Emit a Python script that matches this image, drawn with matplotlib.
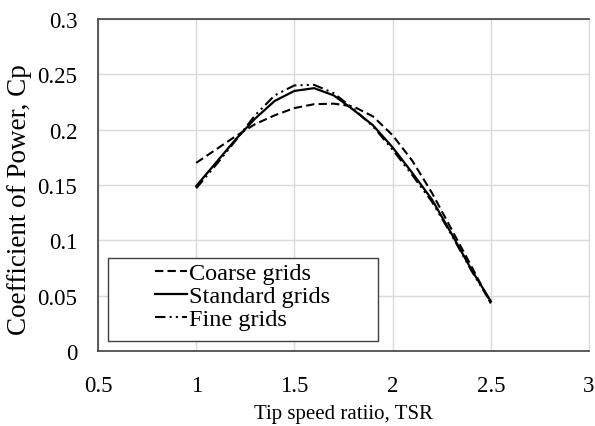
import matplotlib
matplotlib.use("Agg")
import matplotlib.pyplot as plt
from matplotlib.patches import Rectangle

plt.rcParams['font.family'] = ['Liberation Serif', 'DejaVu Serif']

# TSR values
tsr = [1.0, 1.1, 1.2, 1.3, 1.4, 1.5, 1.6, 1.7, 1.8, 1.9, 2.0, 2.1, 2.2, 2.3, 2.4, 2.5]

cp_coarse = [0.170, 0.182, 0.194, 0.205, 0.213, 0.2195, 0.223, 0.2235, 0.221, 0.212,
             0.195, 0.172, 0.143, 0.110, 0.077, 0.043]
cp_standard = [0.149, 0.170, 0.191, 0.210, 0.226, 0.235, 0.2375, 0.231, 0.218, 0.204,
               0.184, 0.161, 0.137, 0.106, 0.074, 0.045]
cp_fine = [0.147, 0.168, 0.190, 0.213, 0.231, 0.240, 0.2405, 0.233, 0.219, 0.203,
           0.182, 0.159, 0.135, 0.105, 0.073, 0.044]

labels = ['Coarse grids', 'Standard grids', 'Fine grids']

fig = plt.figure(figsize=(5.95, 4.27), dpi=100)
ax = fig.add_axes([0.1647, 0.1756, 0.8252, 0.7776])

ax.plot(tsr, cp_coarse, color='black', lw=1.5, linestyle=(0, (4, 2)), label=labels[0])
ax.plot(tsr, cp_standard, color='black', lw=1.6, linestyle='-', label=labels[1])
ax.plot(tsr, cp_fine, color='black', lw=1.5, linestyle=(0, (5, 2, 1, 2, 1, 2)), label=labels[2])

ax.set_xlim(0.5, 3)
ax.set_ylim(0, 0.3)
ax.set_xticks([0.5, 1, 1.5, 2, 2.5, 3])
ax.set_xticklabels(['0.5', '1', '1.5', '2', '2.5', '3'])
ax.set_yticks([0, 0.05, 0.1, 0.15, 0.2, 0.25, 0.3])
ax.set_yticklabels(['0', '0.05', '0.1', '0.15', '0.2', '0.25', '0.3'])
ax.tick_params(axis='both', length=0, labelsize=16.5)
ax.tick_params(axis='y', pad=15)
ax.tick_params(axis='x', pad=17)

ax.grid(True, color='#d9d9d9', lw=1)
ax.set_axisbelow(True)
for side in ['left', 'bottom', 'top']:
    ax.spines[side].set_color('#404040')
    ax.spines[side].set_linewidth(1.2)
ax.spines['right'].set_color('#d9d9d9')

ax.set_xlabel('Tip speed ratiio, TSR', fontsize=15, labelpad=6)
ax.set_ylabel('Coefficient of Power, Cp', fontsize=19.5, labelpad=2)
ax.yaxis.set_label_coords(-0.135, 0.46)

# legend box, Excel style
ax.add_patch(Rectangle((0.0204, 0.030), 0.5499, 0.250, transform=ax.transAxes,
                       fill=True, facecolor='white', edgecolor='#404040', lw=1, zorder=4))
leg = ax.legend(loc='center', bbox_to_anchor=(0.295, 0.165), frameon=False,
                fontsize=17.5, handlelength=1.3, handletextpad=0.1, labelspacing=0.05,
                borderpad=0)
leg.set_zorder(5)

fig.savefig('out.png', dpi=100)
